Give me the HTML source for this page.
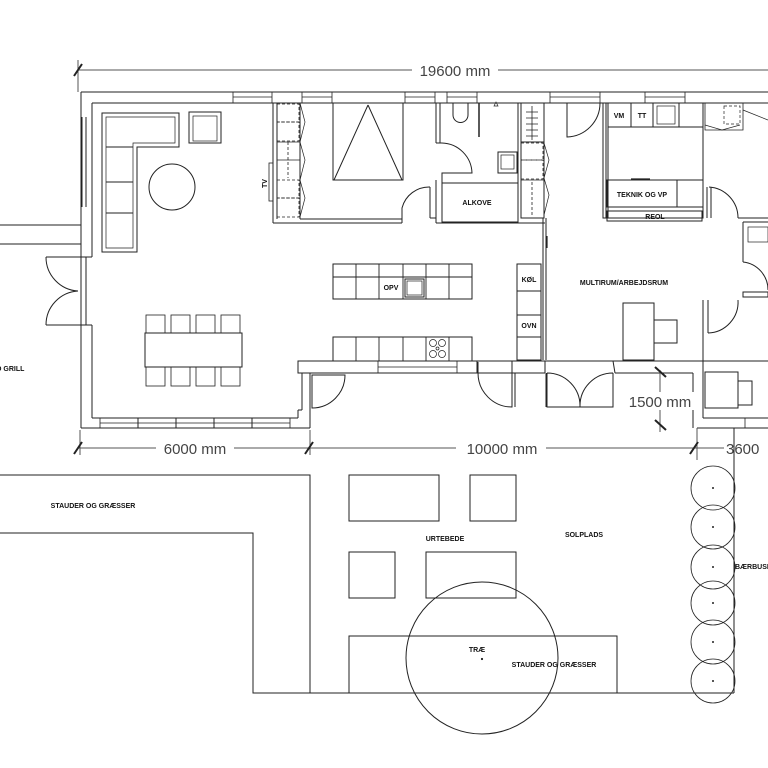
<!DOCTYPE html>
<html><head><meta charset="utf-8"><style>
html,body{margin:0;padding:0;background:#fff}
svg{display:block}
text{font-family:"Liberation Sans",sans-serif}
.l{font-size:7px;font-weight:bold;fill:#111}
.d{font-size:15px;fill:#444}
</style></head><body>
<svg width="768" height="768" viewBox="0 0 768 768" xmlns="http://www.w3.org/2000/svg" fill="none" stroke="#222" stroke-width="1">
<!-- top dimension -->
<line x1="78" y1="70" x2="768" y2="70" stroke="#555"/>
<line x1="78" y1="60" x2="78" y2="92" stroke="#555"/>
<line x1="74" y1="76" x2="82" y2="64" stroke-width="2"/>
<rect x="412" y="61" width="86" height="18" fill="#fff" stroke="none"/>
<text x="455" y="76" class="d" text-anchor="middle" stroke="none">19600 mm</text>

<!-- outer walls -->
<line x1="81" y1="92" x2="768" y2="92"/>
<line x1="92" y1="103" x2="273" y2="103"/>
<line x1="273" y1="103" x2="768" y2="103"/>
<line x1="81" y1="92" x2="81" y2="428"/>
<line x1="92" y1="103" x2="92" y2="257"/>
<line x1="92" y1="325" x2="92" y2="418"/>
<line x1="86" y1="257" x2="86" y2="325"/>
<line x1="81" y1="257" x2="92" y2="257"/>
<line x1="81" y1="325" x2="92" y2="325"/>
<line x1="82" y1="117" x2="82" y2="207"/><line x1="86" y1="117" x2="86" y2="207"/>
<!-- top windows -->
<g stroke-width="0.8">
<rect x="233" y="92" width="39" height="11"/><line x1="233" y1="97" x2="272" y2="97"/>
<rect x="302" y="92" width="30" height="11"/><line x1="302" y1="97" x2="332" y2="97"/>
<rect x="405" y="92" width="30" height="11"/><line x1="405" y1="97" x2="435" y2="97"/>
<rect x="447" y="92" width="30" height="11"/><line x1="447" y1="97" x2="477" y2="97"/>
<rect x="550" y="92" width="50" height="11"/><line x1="550" y1="97" x2="600" y2="97"/>
<rect x="645" y="92" width="40" height="11"/><line x1="645" y1="97" x2="685" y2="97"/>
</g>
<!-- bottom wall living -->
<line x1="81" y1="428" x2="310" y2="428"/>
<line x1="92" y1="418" x2="298" y2="418"/>
<rect x="100" y="418" width="190" height="10" stroke-width="0.8"/>
<line x1="100" y1="423" x2="290" y2="423" stroke-width="0.8"/>
<line x1="138" y1="418" x2="138" y2="428"/><line x1="176" y1="418" x2="176" y2="428"/><line x1="214" y1="418" x2="214" y2="428"/><line x1="252" y1="418" x2="252" y2="428"/>
<line x1="298" y1="418" x2="298" y2="410"/><line x1="298" y1="410" x2="302" y2="410"/>
<line x1="310" y1="428" x2="310" y2="373"/><line x1="302" y1="410" x2="302" y2="373"/>
<!-- pergola & left doors -->
<line x1="0" y1="225" x2="81" y2="225"/><line x1="0" y1="244" x2="81" y2="244"/>
<line x1="46" y1="257" x2="81" y2="257"/><line x1="46" y1="325" x2="81" y2="325"/>
<path d="M46 257 A34 34 0 0 0 78 291"/><path d="M46 325 A34 34 0 0 1 78 291"/>
<text x="-4" y="371" class="l" stroke="none">O GRILL</text>

<!-- sofa -->
<path d="M102 113 H179 V147 H137 V252 H102 Z"/>
<path d="M106 117 H175 V143 H133 V248 H106 Z" stroke-width="0.7"/>
<line x1="106" y1="147" x2="133" y2="147"/><line x1="106" y1="182" x2="133" y2="182"/><line x1="106" y1="213" x2="133" y2="213"/>
<rect x="189" y="112" width="32" height="31"/><rect x="193" y="116" width="24" height="25" stroke-width="0.7"/>
<circle cx="172" cy="187" r="23"/>
<!-- dining -->
<rect x="145" y="333" width="97" height="34"/>
<g stroke-width="0.8">
<rect x="146" y="315" width="19" height="18"/><rect x="171" y="315" width="19" height="18"/><rect x="196" y="315" width="19" height="18"/><rect x="221" y="315" width="19" height="18"/>
<rect x="146" y="367" width="19" height="19"/><rect x="171" y="367" width="19" height="19"/><rect x="196" y="367" width="19" height="19"/><rect x="221" y="367" width="19" height="19"/>
</g>
<!-- TV wall / wardrobes -->
<line x1="273" y1="103" x2="273" y2="223"/><line x1="277" y1="103" x2="277" y2="219"/>
<line x1="273" y1="223" x2="402" y2="223"/><line x1="300" y1="219" x2="402" y2="219"/>
<rect x="269" y="163" width="4" height="38" stroke-width="0.8"/>
<text x="0" y="0" class="l" stroke="none" transform="translate(267,188) rotate(-90)">TV</text>
<g stroke-width="0.8" stroke-dasharray="3,2">
<rect x="277" y="104" width="22" height="18"/><rect x="277" y="122" width="22" height="19"/><rect x="277" y="180" width="22" height="18"/><rect x="277" y="198" width="22" height="19"/>
<line x1="288" y1="142" x2="288" y2="178"/>
</g>
<line x1="277" y1="142" x2="300" y2="142" stroke-width="0.8"/><line x1="277" y1="160" x2="300" y2="160" stroke-width="0.8"/>
<line x1="300" y1="103" x2="300" y2="219"/>
<path d="M300 103 L305 122 L300 142 L305 160 L300 180 L305 198 L300 217" stroke-width="0.7"/>
<!-- bed -->
<rect x="333" y="103" width="70" height="77"/>
<path d="M368 105 L334 180 M368 105 L402 180"/>
<!-- bedroom door -->
<path d="M402 223 V208 A28 28 0 0 1 430 187"/>
<line x1="430" y1="187" x2="430" y2="218"/><line x1="436" y1="187" x2="436" y2="223"/>
<line x1="430" y1="218" x2="436" y2="218"/>
<line x1="436" y1="223" x2="545" y2="223"/>
<!-- bathroom -->
<line x1="436" y1="103" x2="436" y2="143"/><line x1="440" y1="103" x2="440" y2="143"/>
<line x1="436" y1="143" x2="442" y2="143"/>
<path d="M442 143 A31 31 0 0 1 472 173 H442 V183"/>
<line x1="436" y1="180" x2="436" y2="187"/>
<path d="M453 103 V115 A7 7 0 0 0 468 115 V103"/>
<line x1="479" y1="103" x2="479" y2="137" stroke-width="1.5"/>
<path d="M494 106 l2 -4 l2 4 z" stroke-width="0.7"/>
<rect x="498" y="152" width="19" height="21"/><rect x="501" y="155" width="13" height="14" stroke-width="0.7"/>
<line x1="518" y1="103" x2="518" y2="223"/>
<rect x="442" y="183" width="76" height="39"/>
<text x="477" y="205" class="l" text-anchor="middle" stroke="none">ALKOVE</text>
<!-- right wardrobe column -->
<rect x="521" y="103" width="23" height="115"/>
<line x1="521" y1="142" x2="544" y2="142"/>
<line x1="532" y1="106" x2="532" y2="140" stroke-width="0.8"/>
<path d="M526 112 H538 M526 118 H538 M526 124 H538 M526 130 H538 M526 136 H538" stroke-width="0.8"/>
<g stroke-width="0.8" stroke-dasharray="3,2"><rect x="521" y="143" width="22" height="17"/><rect x="521" y="160" width="22" height="19"/><line x1="532" y1="182" x2="532" y2="215"/></g>
<line x1="521" y1="180" x2="544" y2="180" stroke-width="0.8"/>
<path d="M544 143 L549 160 L544 178 L549 195 L544 215" stroke-width="0.7"/>
<line x1="543" y1="218" x2="543" y2="360"/><line x1="546" y1="218" x2="546" y2="360"/>
<line x1="547" y1="236" x2="547" y2="248" stroke-width="1.2"/>
<!-- kitchen island -->
<rect x="333" y="264" width="139" height="35"/>
<line x1="333" y1="277" x2="472" y2="277"/>
<g stroke-width="0.9"><line x1="356" y1="264" x2="356" y2="299"/><line x1="379" y1="264" x2="379" y2="299"/><line x1="403" y1="264" x2="403" y2="299"/><line x1="426" y1="264" x2="426" y2="299"/><line x1="449" y1="264" x2="449" y2="299"/></g>
<rect x="405" y="279" width="19" height="18" fill="#fff"/><rect x="407" y="281" width="15" height="14" stroke-width="0.7"/>
<text x="391" y="290" class="l" text-anchor="middle" stroke="none">OPV</text>
<!-- counter -->
<rect x="333" y="337" width="139" height="24"/>
<g stroke-width="0.9"><line x1="356" y1="337" x2="356" y2="361"/><line x1="379" y1="337" x2="379" y2="361"/><line x1="403" y1="337" x2="403" y2="361"/><line x1="426" y1="337" x2="426" y2="361"/><line x1="449" y1="337" x2="449" y2="361"/></g>
<g stroke-width="0.7"><circle cx="433" cy="343" r="3.5"/><circle cx="442" cy="343" r="3.5"/><circle cx="433" cy="354" r="3.5"/><circle cx="442" cy="354" r="3.5"/><circle cx="437.5" cy="348.5" r="1.5"/></g>
<!-- fridge column -->
<rect x="517" y="264" width="24" height="96"/>
<line x1="517" y1="291" x2="541" y2="291"/><line x1="517" y1="315" x2="541" y2="315"/><line x1="517" y1="337" x2="541" y2="337"/>
<text x="529" y="282" class="l" text-anchor="middle" stroke="none">KØL</text>
<text x="529" y="328" class="l" text-anchor="middle" stroke="none">OVN</text>
<!-- kitchen lower wall -->
<rect x="298" y="361" width="179" height="12"/>
<rect x="378" y="361" width="79" height="12" stroke-width="0.8"/><line x1="378" y1="367" x2="457" y2="367" stroke-width="0.8"/>
<line x1="477" y1="361" x2="768" y2="361"/>
<line x1="477" y1="373" x2="545" y2="373"/>
<line x1="512" y1="361" x2="512" y2="373"/><line x1="545" y1="361" x2="545" y2="373"/>
<line x1="302" y1="373" x2="310" y2="373"/>
<!-- door bottom-left -->
<path d="M312 375 H345 A33 33 0 0 1 312 408 Z"/>
<line x1="310" y1="375" x2="310" y2="410"/>
<!-- door near kitchen -->
<path d="M478 373 V362 M478 373 A34 34 0 0 0 512 407 V373"/>
<line x1="515" y1="373" x2="515" y2="407"/>
<!-- multi room -->
<line x1="546" y1="373" x2="546" y2="407"/>
<path d="M547 373 V407 H580 A33 33 0 0 0 547 373"/>
<path d="M613 373 V407 H580 A33 33 0 0 1 613 373"/>
<line x1="615" y1="373" x2="693" y2="373"/>
<line x1="693" y1="373" x2="693" y2="428"/>
<line x1="613" y1="361" x2="615" y2="373"/>
<text x="624" y="285" class="l" text-anchor="middle" stroke="none">MULTIRUM/ARBEJDSRUM</text>
<rect x="623" y="303" width="31" height="57"/>
<rect x="654" y="320" width="23" height="23"/>
<!-- multi room top door -->
<path d="M567 103 V137 A34 34 0 0 0 600 103"/>
<!-- teknik -->
<rect x="603" y="103" width="100" height="115"/>
<line x1="606" y1="103" x2="606" y2="218"/>
<line x1="608" y1="127" x2="703" y2="127"/>
<line x1="608" y1="103" x2="608" y2="218"/>
<line x1="631" y1="103" x2="631" y2="127"/><line x1="653" y1="103" x2="653" y2="127"/><line x1="679" y1="103" x2="679" y2="127"/>
<rect x="657" y="106" width="18" height="18" stroke-width="0.7"/>
<text x="619" y="118" class="l" text-anchor="middle" stroke="none">VM</text>
<text x="642" y="118" class="l" text-anchor="middle" stroke="none">TT</text>
<rect x="607" y="180" width="70" height="27"/><line x1="677" y1="180" x2="703" y2="180"/><line x1="703" y1="180" x2="703" y2="207"/><line x1="677" y1="207" x2="703" y2="207"/>
<text x="642" y="197" class="l" text-anchor="middle" stroke="none">TEKNIK OG VP</text>
<rect x="607" y="211" width="95" height="10"/>
<text x="655" y="219" class="l" text-anchor="middle" stroke="none">REOL</text>
<line x1="631" y1="179" x2="650" y2="179" stroke-width="1.3"/>
<!-- right side -->
<line x1="703" y1="103" x2="703" y2="218"/>
<path d="M705 103 V130 H743 V103" stroke-width="0.8"/>
<path d="M705 125 L722 130 L740 125" stroke-width="0.7"/>
<path d="M743 110 L768 120" stroke-width="0.7"/>
<rect x="724" y="106" width="16" height="18" stroke-dasharray="3,2" stroke-width="0.7"/>
<line x1="707" y1="187" x2="707" y2="218"/><line x1="711" y1="187" x2="711" y2="218"/>
<path d="M709 187 A31 31 0 0 1 738 218"/>
<line x1="738" y1="218" x2="768" y2="218"/><line x1="743" y1="222" x2="768" y2="222"/>
<line x1="743" y1="222" x2="743" y2="262"/>
<rect x="748" y="227" width="20" height="15" stroke-width="0.7"/>
<path d="M743 262 A28 28 0 0 1 768 290"/>
<rect x="743" y="292" width="25" height="5"/>
<line x1="703" y1="300" x2="703" y2="418"/><line x1="708" y1="300" x2="708" y2="333"/>
<path d="M708 333 A31 31 0 0 0 738 300"/>
<line x1="703" y1="418" x2="768" y2="418"/><line x1="697" y1="428" x2="768" y2="428"/>
<rect x="705" y="372" width="33" height="36"/><rect x="738" y="381" width="14" height="24"/>
<line x1="745" y1="418" x2="745" y2="428" stroke-width="0.8"/>
<!-- 1500 dim -->
<line x1="660" y1="370" x2="660" y2="432" stroke="#555"/>
<line x1="655" y1="367" x2="666" y2="377" stroke-width="2"/><line x1="655" y1="420" x2="666" y2="430" stroke-width="2"/>
<rect x="622" y="392" width="76" height="18" fill="#fff" stroke="none"/>
<text x="660" y="407" class="d" text-anchor="middle" stroke="none">1500 mm</text>
<line x1="697" y1="428" x2="697" y2="460" stroke="#555"/>

<!-- bottom dimension -->
<line x1="78" y1="448" x2="768" y2="448" stroke="#555"/>
<line x1="80" y1="430" x2="80" y2="455" stroke="#555"/><line x1="310" y1="430" x2="310" y2="455" stroke="#555"/>
<line x1="74" y1="454" x2="82" y2="442" stroke-width="2"/><line x1="305" y1="454" x2="313" y2="442" stroke-width="2"/><line x1="690" y1="454" x2="698" y2="442" stroke-width="2"/>
<rect x="156" y="439" width="78" height="18" fill="#fff" stroke="none"/>
<text x="195" y="454" class="d" text-anchor="middle" stroke="none">6000 mm</text>
<rect x="456" y="439" width="90" height="18" fill="#fff" stroke="none"/>
<text x="502" y="454" class="d" text-anchor="middle" stroke="none">10000 mm</text>
<rect x="724" y="439" width="44" height="18" fill="#fff" stroke="none"/>
<text x="726" y="454" class="d" stroke="none">3600</text>
<line x1="734" y1="428" x2="734" y2="693"/>

<!-- garden -->
<path d="M0 475 H310 V693 M0 533 H253 V693 H734"/>
<rect x="349" y="475" width="90" height="46"/>
<rect x="470" y="475" width="46" height="46"/>
<rect x="349" y="552" width="46" height="46"/>
<rect x="426" y="552" width="90" height="46"/>
<rect x="349" y="636" width="268" height="57"/>
<circle cx="482" cy="658" r="76"/>
<circle cx="482" cy="659" r="0.6" fill="#222"/>
<g stroke-width="0.8">
<circle cx="713" cy="488" r="22"/><circle cx="713" cy="527" r="22"/><circle cx="713" cy="567" r="22"/><circle cx="713" cy="603" r="22"/><circle cx="713" cy="642" r="22"/><circle cx="713" cy="681" r="22"/>
</g>
<g fill="#222" stroke="none"><circle cx="713" cy="488" r="1"/><circle cx="713" cy="527" r="1"/><circle cx="713" cy="567" r="1"/><circle cx="713" cy="603" r="1"/><circle cx="713" cy="642" r="1"/><circle cx="713" cy="681" r="1"/></g>
<g stroke="none">
<text x="93" y="508" class="l" text-anchor="middle">STAUDER OG GRÆSSER</text>
<text x="445" y="541" class="l" text-anchor="middle">URTEBEDE</text>
<text x="584" y="537" class="l" text-anchor="middle">SOLPLADS</text>
<text x="735" y="569" class="l">BÆRBUSKE</text>
<text x="477" y="652" class="l" text-anchor="middle">TRÆ</text>
<text x="554" y="667" class="l" text-anchor="middle">STAUDER OG GRÆSSER</text>
</g>
</svg>
</body></html>
